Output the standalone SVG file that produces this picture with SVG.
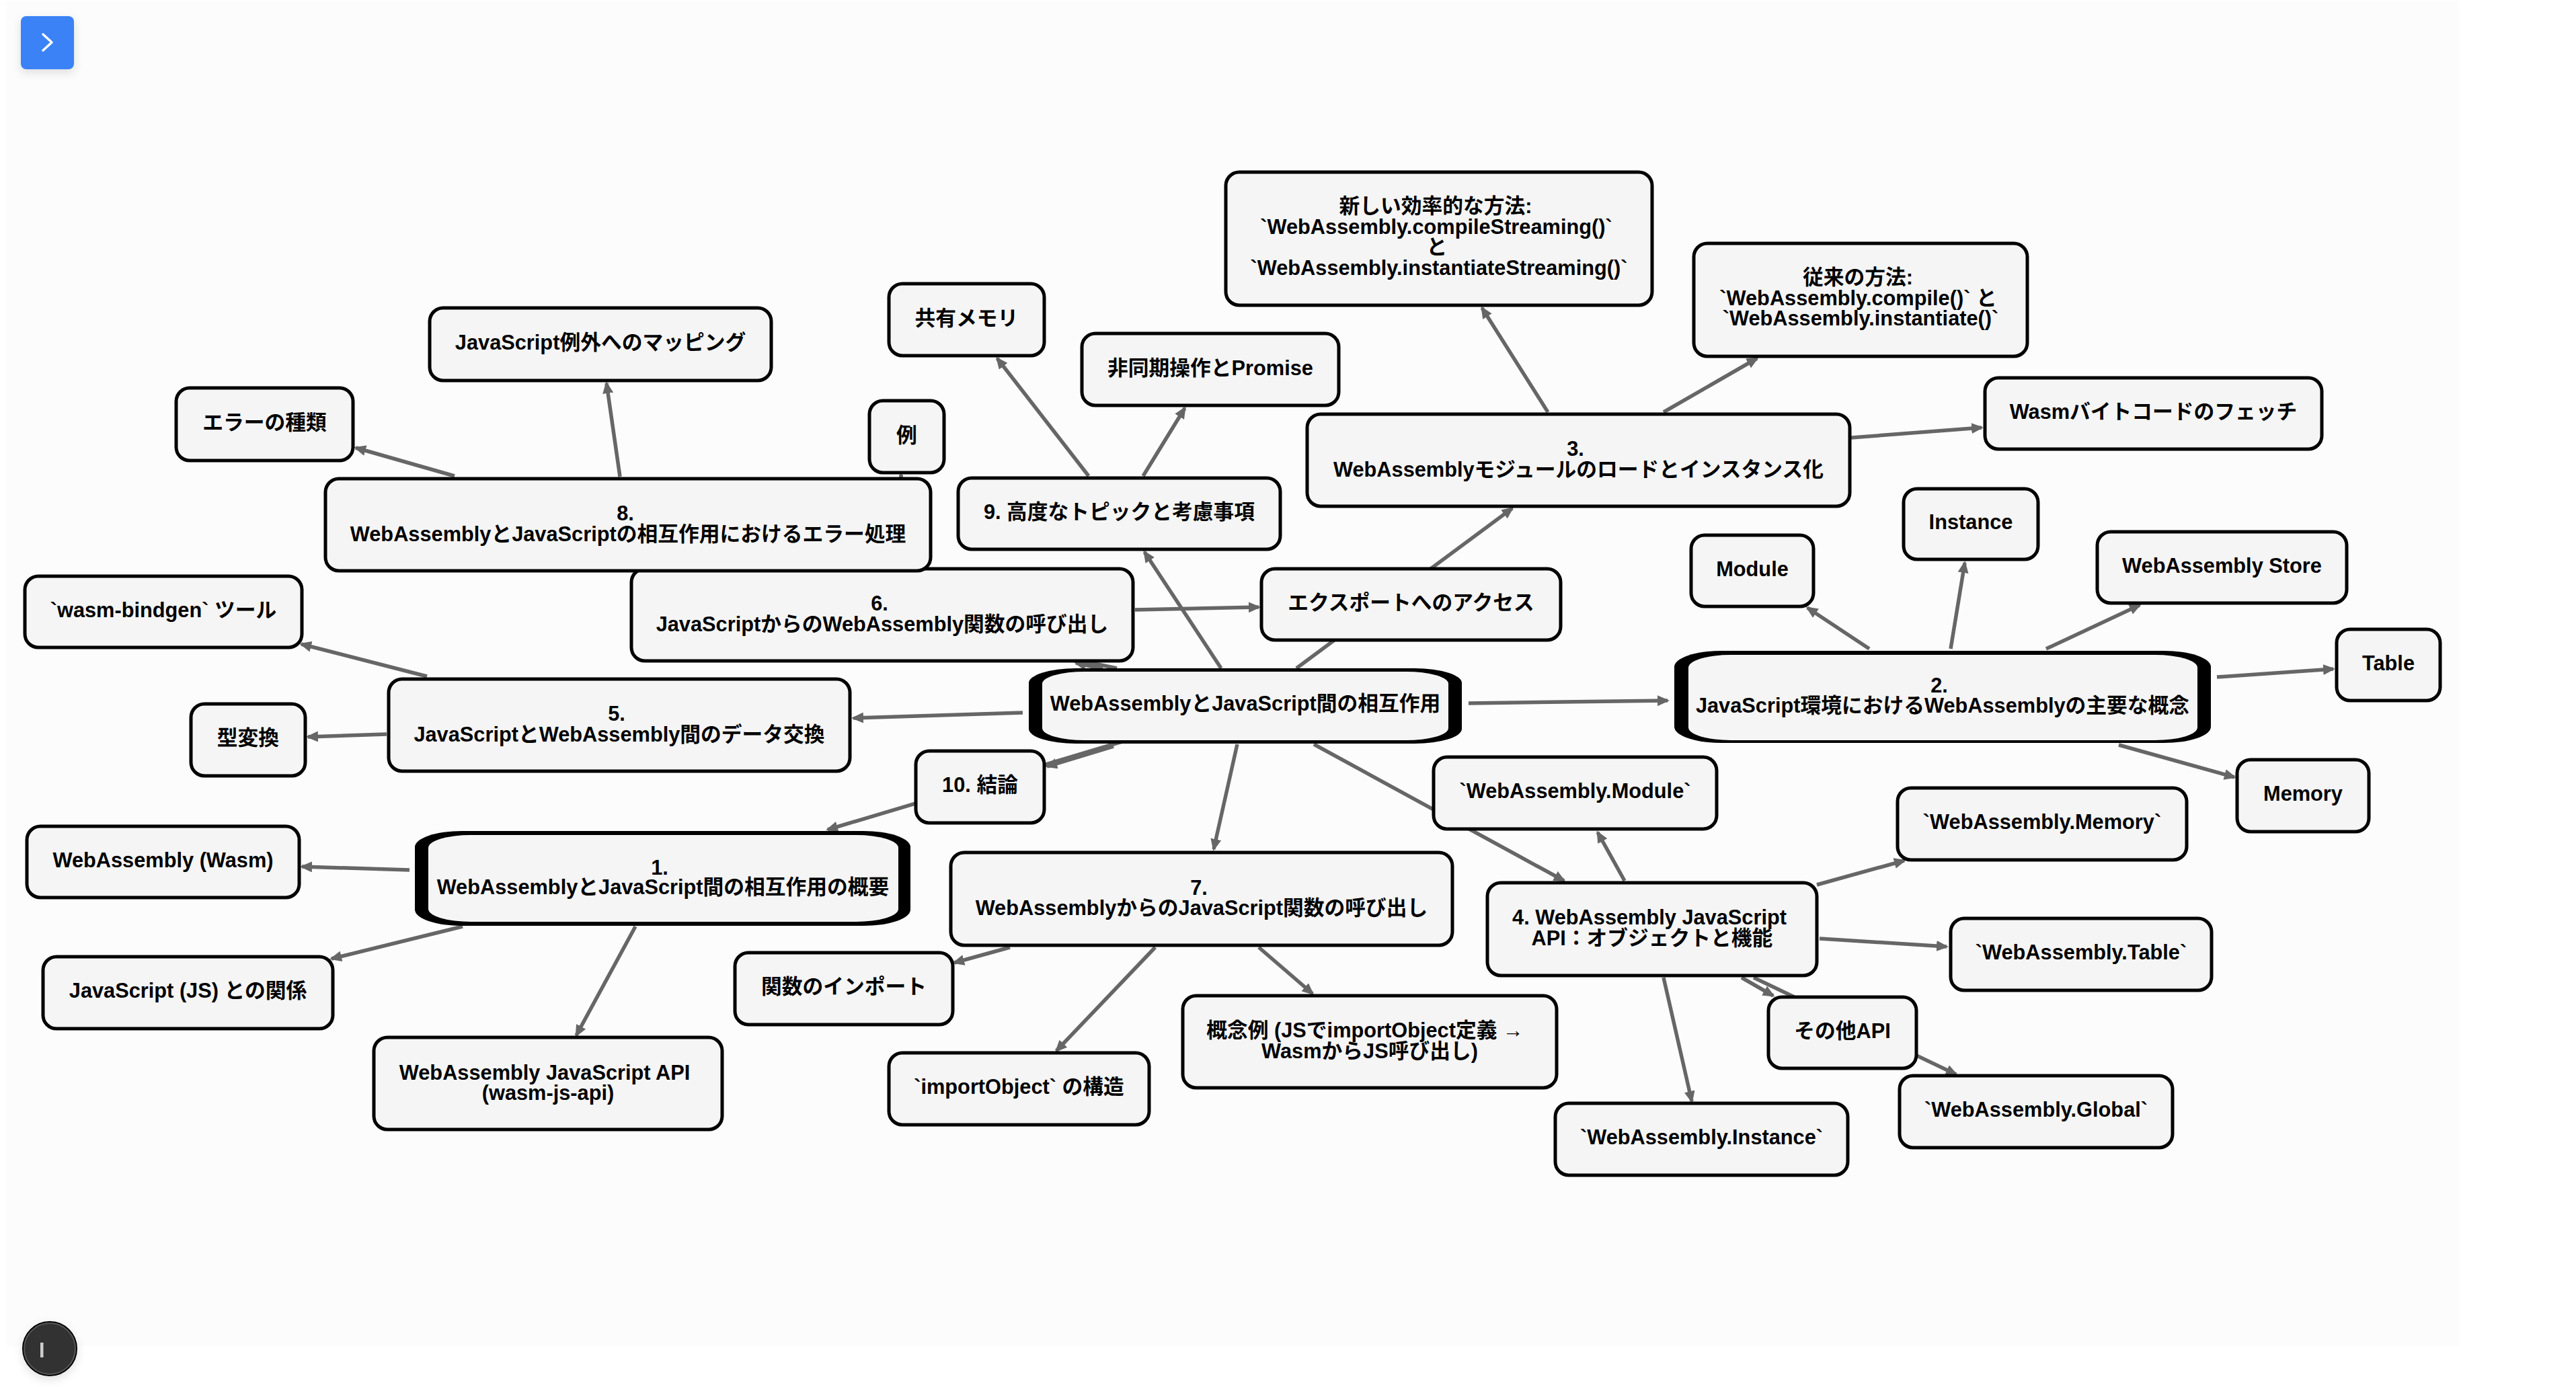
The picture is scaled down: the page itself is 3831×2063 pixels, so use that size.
<svg xmlns="http://www.w3.org/2000/svg" width="3831" height="2063" viewBox="0 0 3831 2063">
<style>
.n{fill:#f5f5f5;stroke:#000;stroke-width:5}
.t{font-family:"Liberation Sans","Noto Sans CJK JP",sans-serif;font-weight:700;font-size:30.75px;text-anchor:middle;fill:#000;transform:translateY(-1.5px)}
#edges line{stroke:#666;stroke-width:5.5;marker-end:url(#a)}
.o{fill:#000}.i{fill:#f5f5f5}
</style>
<defs>
<marker id="a" markerUnits="userSpaceOnUse" markerWidth="20" markerHeight="16" refX="15" refY="8" orient="auto"><path d="M0,0L18,8L0,16z" fill="#666"/></marker>
<filter id="s" x="-50%" y="-50%" width="200%" height="200%"><feDropShadow dx="0" dy="5" stdDeviation="7" flood-color="#000" flood-opacity=".12"/></filter>
</defs>
<rect width="3831" height="2063" fill="#fff"/>
<rect x="9" y="2" width="3648" height="2000" fill="#fcfcfc"/>
<g id="edges">
<line x1="1521" y1="1060" x2="1269" y2="1068"/>
<line x1="1640" y1="995" x2="1600" y2="986"/>
<line x1="1661" y1="994" x2="985" y2="852"/>
<line x1="1816" y1="994" x2="1702" y2="821"/>
<line x1="1928" y1="994" x2="2249" y2="756"/>
<line x1="2184" y1="1046" x2="2480" y2="1042"/>
<line x1="1669" y1="1103" x2="1231" y2="1234"/>
<line x1="1656" y1="1110" x2="1557" y2="1140"/>
<line x1="1840" y1="1107" x2="1805" y2="1263"/>
<line x1="1954" y1="1107" x2="2326" y2="1310"/>
<line x1="676" y1="708" x2="529" y2="666"/>
<line x1="922" y1="709" x2="902" y2="570"/>
<line x1="1340" y1="712" x2="1340" y2="706"/>
<line x1="635" y1="1006" x2="448" y2="958"/>
<line x1="575" y1="1092" x2="458" y2="1096"/>
<line x1="1619" y1="708" x2="1483" y2="533"/>
<line x1="1700" y1="708" x2="1762" y2="607"/>
<line x1="2302" y1="613" x2="2204" y2="458"/>
<line x1="2474" y1="613" x2="2613" y2="533"/>
<line x1="2753" y1="651" x2="2947" y2="636"/>
<line x1="1688" y1="907" x2="1872" y2="903"/>
<line x1="2416" y1="1310" x2="2376" y2="1238"/>
<line x1="2702" y1="1316" x2="2832" y2="1280"/>
<line x1="2706" y1="1396" x2="2895" y2="1408"/>
<line x1="2590" y1="1454" x2="2637" y2="1481"/>
<line x1="2474" y1="1454" x2="2516" y2="1638"/>
<line x1="2608" y1="1454" x2="2909" y2="1598"/>
<line x1="1502" y1="1409" x2="1419" y2="1432"/>
<line x1="1718" y1="1409" x2="1571" y2="1563"/>
<line x1="1872" y1="1409" x2="1952" y2="1478"/>
<line x1="609" y1="1294" x2="449" y2="1289"/>
<line x1="688" y1="1378" x2="493" y2="1426"/>
<line x1="945" y1="1378" x2="857" y2="1540"/>
<line x1="2780" y1="965" x2="2688" y2="904"/>
<line x1="2901" y1="965" x2="2922" y2="837"/>
<line x1="3043" y1="965" x2="3182" y2="900"/>
<line x1="3297" y1="1007" x2="3470" y2="995"/>
<line x1="3151" y1="1108" x2="3323" y2="1156"/>
</g>
<g id="n-js-ex"><rect class="n" x="639" y="458" width="508" height="108" rx="20"/><text class="t" x="893" y="521">JavaScript例外へのマッピング</text></g>
<g id="n-err"><rect class="n" x="262" y="577" width="263" height="108" rx="20"/><text class="t" x="393.5" y="640">エラーの種類</text></g>
<g id="n-6"><rect class="n" x="939" y="846" width="746" height="137" rx="20"/><text class="t"><tspan x="1308" y="909.5">6.</tspan><tspan x="1312" y="940">JavaScriptからのWebAssembly関数の呼び出し</tspan></text></g>
<g id="n-8"><rect class="n" x="484" y="712" width="900" height="137" rx="20"/><text class="t"><tspan x="930" y="775.5">8.</tspan><tspan x="934" y="806">WebAssemblyとJavaScriptの相互作用におけるエラー処理</tspan></text></g>
<g id="n-bindgen"><rect class="n" x="37" y="857" width="412" height="106" rx="20"/><text class="t" x="243" y="919">`wasm-bindgen` ツール</text></g>
<g id="n-new"><rect class="n" x="1823" y="256" width="634" height="198" rx="20"/><text class="t"><tspan x="2135" y="318">新しい効率的な方法:</tspan><tspan x="2136" y="349">`WebAssembly.compileStreaming()`</tspan><tspan x="2137" y="379">と</tspan><tspan x="2140" y="410">`WebAssembly.instantiateStreaming()`</tspan></text></g>
<g id="n-shared"><rect class="n" x="1322" y="422" width="231" height="107" rx="20"/><text class="t" x="1437.5" y="485">共有メモリ</text></g>
<g id="n-async"><rect class="n" x="1609" y="496" width="382" height="107" rx="20"/><text class="t" x="1800" y="559">非同期操作とPromise</text></g>
<g id="n-ex"><rect class="n" x="1293" y="596" width="111" height="107" rx="20"/><text class="t" x="1348.5" y="659">例</text></g>
<g id="n-9"><rect class="n" x="1425" y="711" width="479" height="106" rx="20"/><text class="t" x="1664.5" y="773">9. 高度なトピックと考慮事項</text></g>
<g id="n-3"><rect class="n" x="1944" y="616" width="807" height="137" rx="20"/><text class="t"><tspan x="2343" y="679.5">3.</tspan><tspan x="2347.5" y="710">WebAssemblyモジュールのロードとインスタンス化</tspan></text></g>
<g id="n-export"><rect class="n" x="1876" y="846" width="445" height="106" rx="20"/><text class="t" x="2098.5" y="908">エクスポートへのアクセス</text></g>
<g id="n-module"><rect class="n" x="2515" y="796" width="182" height="106" rx="20"/><text class="t" x="2606" y="858">Module</text></g>
<g id="n-instance"><rect class="n" x="2831" y="727" width="200" height="105" rx="20"/><text class="t" x="2931" y="788">Instance</text></g>
<g id="n-store"><rect class="n" x="3119" y="791" width="371" height="106" rx="20"/><text class="t" x="3304.5" y="853">WebAssembly Store</text></g>
<g id="n-fetch"><rect class="n" x="2952" y="562" width="501" height="106" rx="20"/><text class="t" x="3202.5" y="624">Wasmバイトコードのフェッチ</text></g>
<g id="n-old"><rect class="n" x="2519" y="362" width="496" height="168" rx="20"/><text class="t"><tspan x="2763" y="424">従来の方法:</tspan><tspan x="2763.5" y="455">`WebAssembly.compile()` と</tspan><tspan x="2767" y="485.5">`WebAssembly.instantiate()`</tspan></text></g>
<g id="n-table"><rect class="n" x="3475" y="936" width="154" height="106" rx="20"/><text class="t" x="3552" y="998">Table</text></g>
<g id="n-memory"><rect class="n" x="3327" y="1130" width="196" height="107" rx="20"/><text class="t" x="3425" y="1192">Memory</text></g>
<g id="n-wamem"><rect class="n" x="2822" y="1172" width="430" height="107" rx="20"/><text class="t" x="3037" y="1234">`WebAssembly.Memory`</text></g>
<g id="n-conv"><rect class="n" x="284" y="1047" width="170" height="107" rx="20"/><text class="t" x="369" y="1109">型変換</text></g>
<g id="n-5"><rect class="n" x="578" y="1010" width="686" height="137" rx="20"/><text class="t"><tspan x="917" y="1073">5.</tspan><tspan x="921" y="1104">JavaScriptとWebAssembly間のデータ交換</tspan></text></g>
<g id="n-wasm"><rect class="n" x="40" y="1229" width="405" height="106" rx="20"/><text class="t" x="242.5" y="1291">WebAssembly (Wasm)</text></g>
<g id="n-jsrel"><rect class="n" x="64" y="1423" width="431" height="107" rx="20"/><text class="t" x="279.5" y="1485.5">JavaScript (JS) との関係</text></g>
<g id="n-api"><rect class="n" x="556" y="1543" width="518" height="137" rx="20"/><text class="t"><tspan x="810" y="1607">WebAssembly JavaScript API</tspan><tspan x="815" y="1637.5">(wasm-js-api)</tspan></text></g>
<g id="n-10"><rect class="n" x="1362" y="1117" width="191" height="107" rx="20"/><text class="t" x="1457.5" y="1179">10. 結論</text></g>
<g id="n-7"><rect class="n" x="1414" y="1268" width="746" height="138" rx="20"/><text class="t"><tspan x="1783" y="1332">7.</tspan><tspan x="1787" y="1362.5">WebAssemblyからのJavaScript関数の呼び出し</tspan></text></g>
<g id="n-wamod"><rect class="n" x="2132" y="1126" width="421" height="107" rx="20"/><text class="t" x="2342.5" y="1188">`WebAssembly.Module`</text></g>
<g id="n-4"><rect class="n" x="2212" y="1313" width="490" height="138" rx="20"/><text class="t"><tspan x="2453" y="1376.5">4. WebAssembly JavaScript</tspan><tspan x="2457" y="1407">API：オブジェクトと機能</tspan></text></g>
<g id="n-import"><rect class="n" x="1093" y="1417" width="324" height="107" rx="20"/><text class="t" x="1255" y="1479">関数のインポート</text></g>
<g id="n-importobj"><rect class="n" x="1322" y="1566" width="387" height="107" rx="20"/><text class="t" x="1515.5" y="1628">`importObject` の構造</text></g>
<g id="n-concept"><rect class="n" x="1759" y="1481" width="556" height="137" rx="20"/><text class="t"><tspan x="2030" y="1544.5">概念例 (JSでimportObject定義 →</tspan><tspan x="2037" y="1575">WasmからJS呼び出し)</tspan></text></g>
<g id="n-wainst"><rect class="n" x="2313" y="1641" width="435" height="107" rx="20"/><text class="t" x="2530.5" y="1703">`WebAssembly.Instance`</text></g>
<g id="n-other"><rect class="n" x="2630" y="1483" width="220" height="106" rx="20"/><text class="t" x="2740" y="1545">その他API</text></g>
<g id="n-global"><rect class="n" x="2825" y="1600" width="406" height="107" rx="20"/><text class="t" x="3028" y="1662">`WebAssembly.Global`</text></g>
<g id="n-watable"><rect class="n" x="2901" y="1366" width="388" height="107" rx="20"/><text class="t" x="3095" y="1428">`WebAssembly.Table`</text></g>
<g id="n-center"><rect class="o" x="1530" y="994" width="644" height="112" rx="70" ry="22"/><rect class="i" x="1550" y="999" width="604" height="102" rx="63" ry="18"/><text class="t" x="1852" y="1058">WebAssemblyとJavaScript間の相互作用</text></g>
<g id="n-2"><rect class="o" x="2490" y="968" width="798" height="137" rx="70" ry="24"/><rect class="i" x="2511" y="974" width="757" height="127" rx="63" ry="19"/><text class="t"><tspan x="2884" y="1031">2.</tspan><tspan x="2889" y="1061">JavaScript環境におけるWebAssemblyの主要な概念</tspan></text></g>
<g id="n-1"><rect class="o" x="617" y="1236" width="737" height="141" rx="70" ry="24"/><rect class="i" x="637" y="1242" width="699" height="129" rx="63" ry="19"/><text class="t"><tspan x="981" y="1302">1.</tspan><tspan x="986" y="1331">WebAssemblyとJavaScript間の相互作用の概要</tspan></text></g>
<g id="toggle"><rect x="31" y="24" width="79" height="79" rx="8" fill="#3b82f6" filter="url(#s)"/><path d="M64,51L77,63L64,75" fill="none" stroke="#fff" stroke-width="3.5" stroke-linecap="round" stroke-linejoin="round"/></g>
<g id="badge"><circle cx="74" cy="2006" r="40" fill="#333" stroke="#000" stroke-width="2" filter="url(#s)"/><circle cx="74" cy="2006" r="38" fill="none" stroke="#555" stroke-width="2"/><rect x="60" y="1997" width="4.5" height="22" fill="#ccc"/></g>
</svg>
